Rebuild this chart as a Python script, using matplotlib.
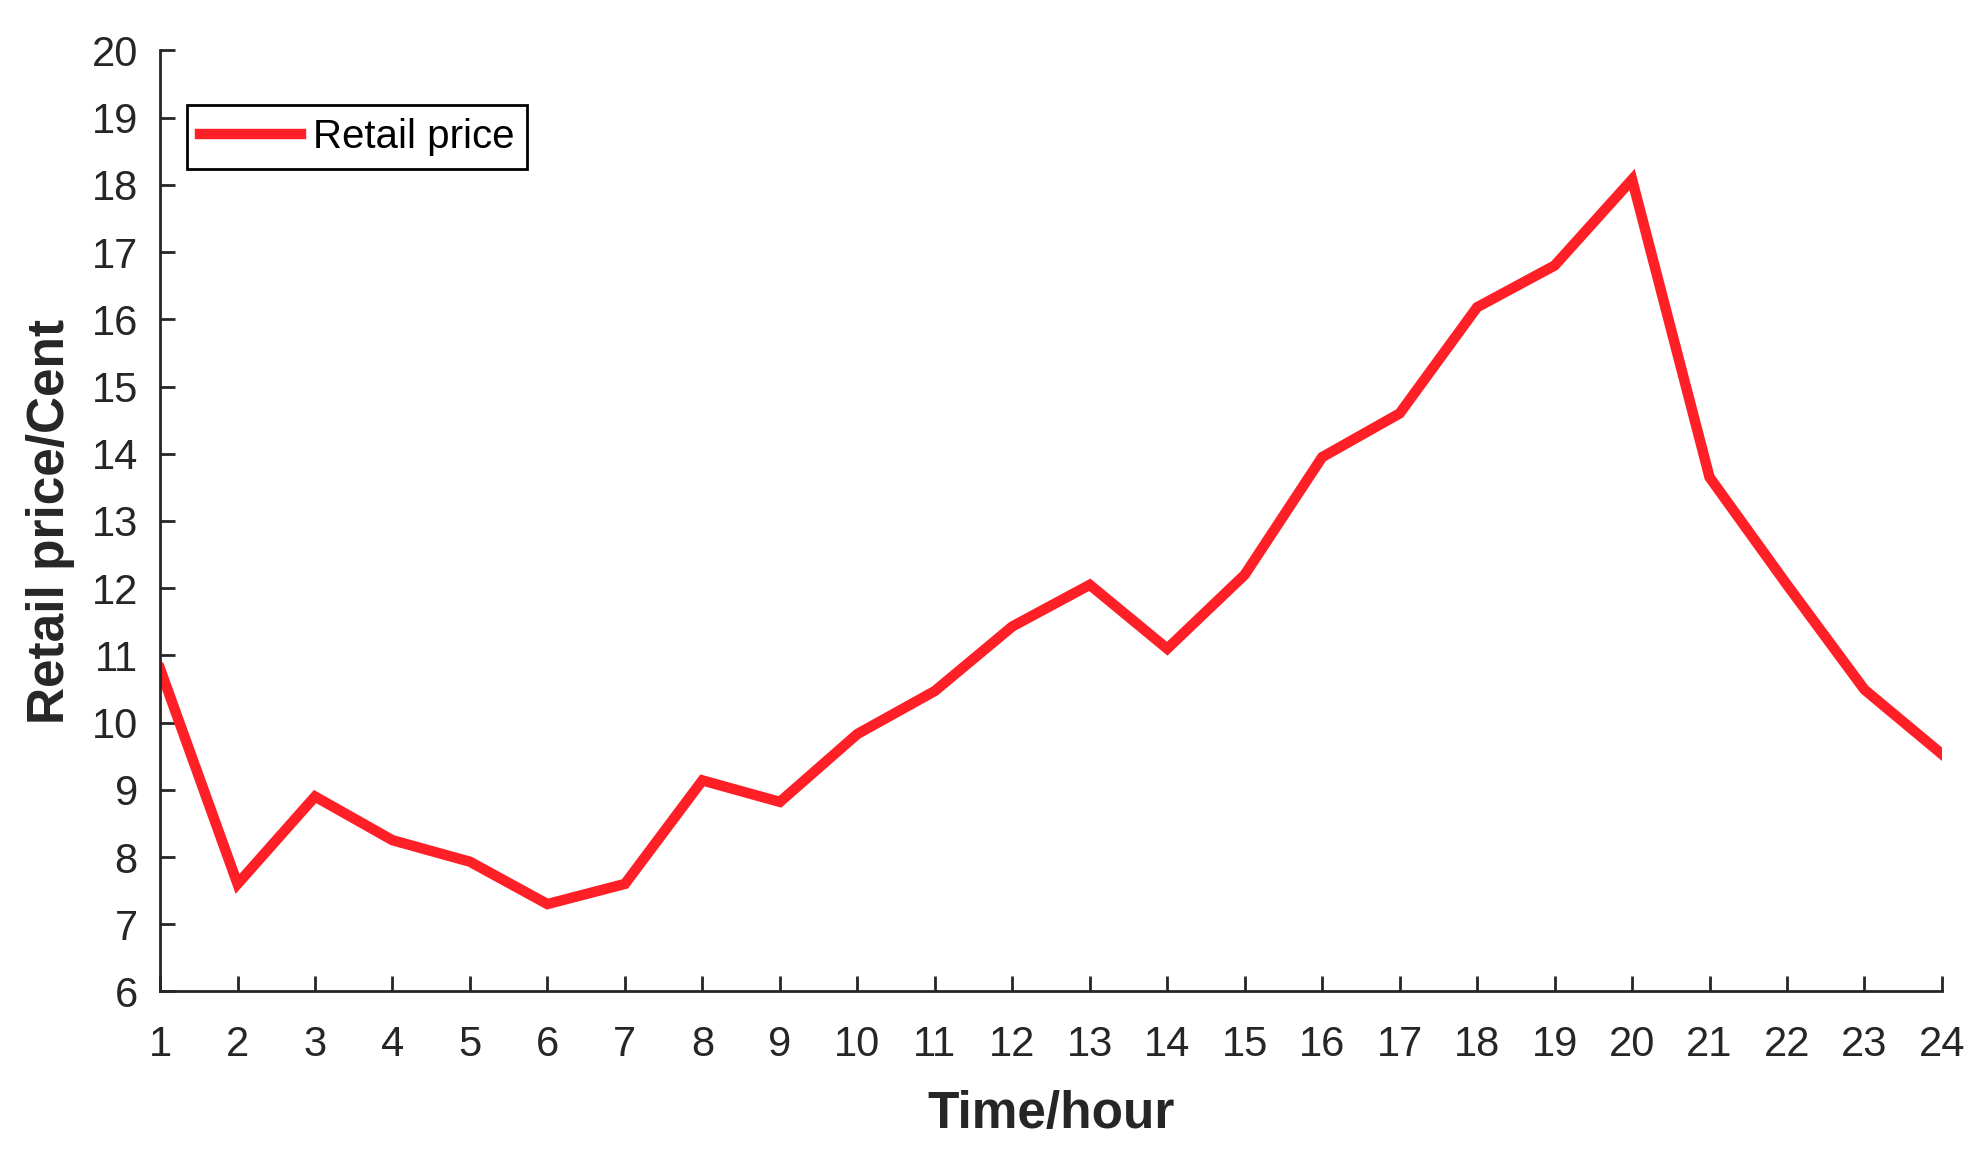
import numpy as np
import matplotlib
matplotlib.use('Agg')
import matplotlib.pyplot as plt

# hourly retail price
hours = np.arange(1, 25)
price = [10.8, 7.6, 8.9, 8.25, 7.93, 7.3, 7.6, 9.14, 8.82, 9.83, 10.47, 11.43,
         12.05, 11.1, 12.2, 13.95, 14.6, 16.18, 16.8, 18.08, 13.65, 12.05, 10.49, 9.53]

RED  = '#ff1f26'
GREY = '#262626'

plt.rcParams['font.family'] = ['Liberation Sans', 'DejaVu Sans']

fig = plt.figure(figsize=(19.81, 11.55), dpi=100)
ax = fig.add_axes([0.0808, 0.1416, 0.8995, 0.8147])

ax.plot(hours, price, color=RED, linewidth=7.5, label='Retail price',
        solid_joinstyle='miter')

ax.set_xlim(1, 24)
ax.set_ylim(6, 20)
ax.set_xticks(hours)
ax.set_yticks(range(6, 21))

for side in ('top', 'right'):
    ax.spines[side].set_visible(False)
for side in ('left', 'bottom'):
    ax.spines[side].set_color(GREY)
    ax.spines[side].set_linewidth(2.0)

ax.tick_params(axis='both', direction='in', length=11, width=2.0,
               colors=GREY, labelsize=30)
ax.tick_params(axis='x', pad=24)
ax.tick_params(axis='y', pad=16)

ax.set_xlabel('Time/hour', fontsize=37, fontweight='bold', color=GREY,
              labelpad=18)
ax.set_ylabel('Retail price/Cent', fontsize=37, fontweight='bold', color=GREY,
              labelpad=12)

leg = ax.legend(loc='upper left', bbox_to_anchor=(0.0152, 0.942),
                borderaxespad=0, fontsize=29, handlelength=2.5,
                handletextpad=0.3, borderpad=0.32, fancybox=False,
                framealpha=1)
leg.get_frame().set_edgecolor('black')
leg.get_frame().set_linewidth(2.0)

fig.savefig('out.png', dpi=100)
